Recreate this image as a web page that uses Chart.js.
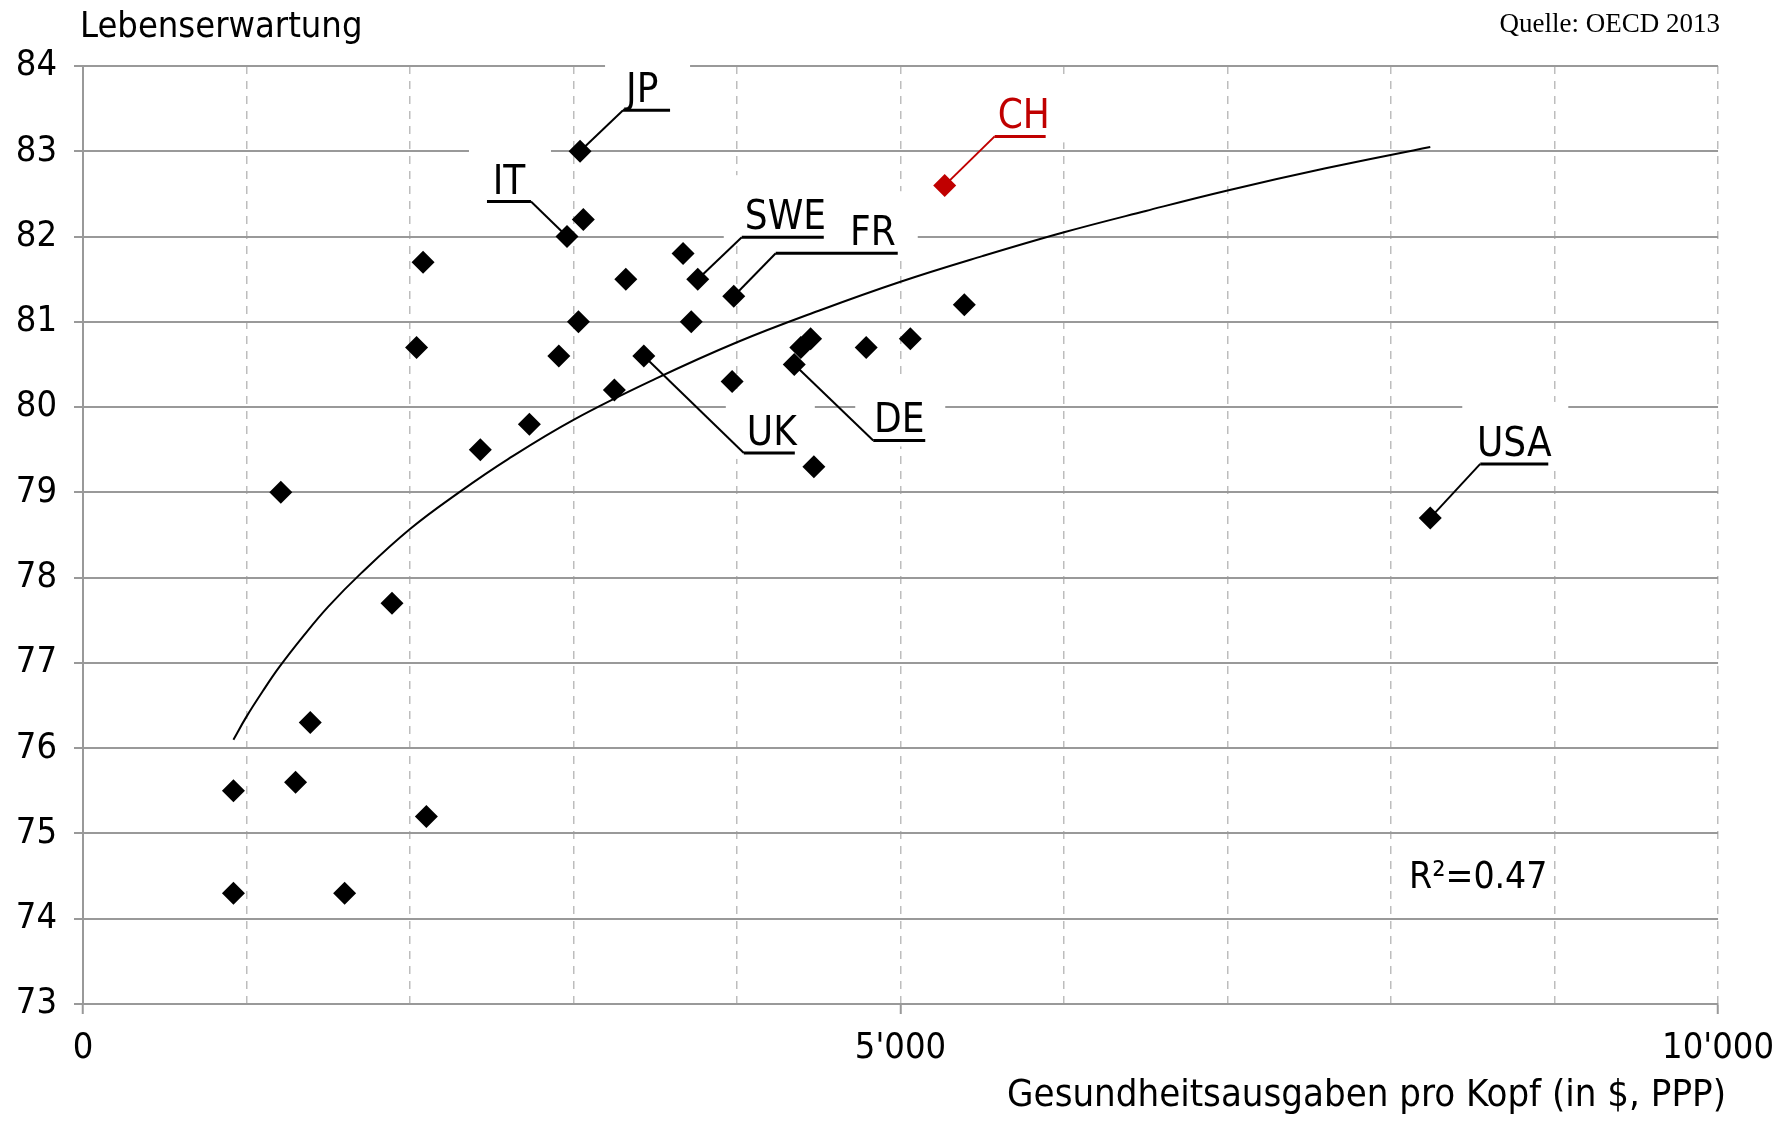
<!DOCTYPE html>
<html>
<head>
<meta charset="utf-8">
<script src="https://cdn.jsdelivr.net/npm/chart.js@4.4.0/dist/chart.umd.min.js"></script>
<style>
    html, body { margin: 0; padding: 0; background: #fff; }
    #wrap { width: 1787px; height: 1127px; }
</style>
</head>
<body>
<div id="wrap"><canvas id="chart" width="1787" height="1127"></canvas></div>
<script>
const FONT = "'Liberation Sans Narrow', 'DejaVu Sans Condensed', sans-serif";

// Health spending per head (USD, PPP) and life expectancy
const spending = [3040, 3060, 2960, 2080, 2040, 3030, 2910, 3320, 3250, 3430,
                  3670, 3760, 3720, 3980, 3970, 4350, 4390, 4450, 4470, 4790,
                  5060, 5390, 8240, 2430, 2730, 1210, 1890, 1390, 1300, 920,
                  920, 1600, 2100];
const lifeExp = [83.0, 82.2, 82.0, 81.7, 80.7, 81.0, 80.6, 81.5, 80.2, 80.6,
                 81.8, 81.5, 81.0, 81.3, 80.3, 80.5, 80.7, 80.8, 79.3, 80.7,
                 80.8, 81.2, 78.7, 79.5, 79.8, 79.0, 77.7, 76.3, 75.6, 75.5,
                 74.3, 74.3, 75.2];
const codes = ['JP', '', 'IT', '', '', '', '', '', '', 'UK',
               '', 'SWE', '', 'FR', '', 'DE', '', '', '', '',
               '', '', 'USA', '', '', '', '', '', '', '',
               '', '', ''];

// Switzerland, highlighted
const chSpending = [5270];
const chLifeExp = [82.6];

// Logarithmic trend curve
const trendX = [920, 1000, 1100, 1200, 1350, 1500, 1700, 2000, 2300, 2600, 3000,
                3500, 4000, 4500, 5000, 5500, 6000, 6500, 7000, 7600, 8240];
const trendY = [76.1, 76.37, 76.67, 76.95, 77.32, 77.66, 78.05, 78.57, 79.0, 79.39, 79.85,
                80.33, 80.76, 81.13, 81.47, 81.77, 82.05, 82.3, 82.54, 82.8, 83.05];

const xLabelValues = [0, 5000, 10000];
const xLabelTexts = ['0', "5'000", "10'000"];

// Leader line + underline placement for each labelled point (pixels)
const labelStyle = {
    JP:  { dx: 43,  dy: -41, len: 47,  dir: 1,  align: 'left' },
    IT:  { dx: -36, dy: -35, len: 44,  dir: -1, align: 'center' },
    SWE: { dx: 44,  dy: -42, len: 82,  dir: 1,  align: 'left' },
    FR:  { dx: 42,  dy: -43, len: 122, dir: 1,  align: 'right' },
    UK:  { dx: 100, dy: 97,  len: 51,  dir: 1,  align: 'left' },
    DE:  { dx: 79,  dy: 76,  len: 52,  dir: 1,  align: 'center' },
    USA: { dx: 50,  dy: -54, len: 68,  dir: 1,  align: 'center' },
    CH:  { dx: 50,  dy: -49, len: 51,  dir: 1,  align: 'left', color: '#c00000' }
};

function labelItems(chart) {
    const items = [];
    const pts = chart.getDatasetMeta(0).data;
    codes.forEach((c, i) => {
        if (c) items.push({ code: c, x: pts[i].x, y: pts[i].y });
    });
    const ch = chart.getDatasetMeta(1).data[0];
    items.push({ code: 'CH', x: ch.x, y: ch.y });
    return items.map(it => {
        const s = labelStyle[it.code];
        const ax = it.x + s.dx, ay = it.y + s.dy;
        const x0 = s.dir > 0 ? ax : ax - s.len;
        const x1 = s.dir > 0 ? ax + s.len : ax;
        return Object.assign({}, it, s, { ax, ay, x0, x1 });
    });
}

const annotate = {
    id: 'annotate',
    beforeDatasetsDraw(chart) {
        const ctx = chart.ctx;
        ctx.save();
        ctx.fillStyle = '#fff';
        labelItems(chart).forEach(l => {
            ctx.fillRect(l.x0 - 18, l.ay - 62, (l.x1 - l.x0) + 38, 68);
        });
        ctx.restore();
    },
    afterDatasetsDraw(chart) {
        const ctx = chart.ctx;
        ctx.save();
        labelItems(chart).forEach(l => {
            const col = l.color || '#000';
            ctx.strokeStyle = col;
            ctx.lineWidth = 2;
            ctx.beginPath();
            ctx.moveTo(l.x, l.y);
            ctx.lineTo(l.ax, l.ay);
            ctx.stroke();
            ctx.lineWidth = 3;
            ctx.beginPath();
            ctx.moveTo(l.x0, l.ay);
            ctx.lineTo(l.x1, l.ay);
            ctx.stroke();
            ctx.fillStyle = col;
            ctx.font = '40px ' + FONT;
            ctx.textBaseline = 'alphabetic';
            ctx.textAlign = l.align;
            let tx = l.x0 + 3;
            if (l.align === 'center') tx = (l.x0 + l.x1) / 2;
            if (l.align === 'right') tx = l.x1 - 2;
            ctx.fillText(l.code, tx, l.ay - 8);
        });

        // R² note, placed in data space
        const xs = chart.scales.x, ys = chart.scales.y;
        ctx.fillStyle = '#000';
        ctx.textAlign = 'left';
        ctx.textBaseline = 'middle';
        ctx.font = '37px ' + FONT;
        ctx.fillText('R²=0.47', xs.getPixelForValue(8110), ys.getPixelForValue(74.47));
        ctx.restore();
    },
    afterDraw(chart) {
        const ctx = chart.ctx;
        ctx.save();
        ctx.fillStyle = '#000';
        ctx.textBaseline = 'middle';
        ctx.textAlign = 'left';
        ctx.font = '36px ' + FONT;
        ctx.fillText('Lebenserwartung', 80, 28);
        ctx.textAlign = 'right';
        ctx.font = '38px ' + FONT;
        ctx.fillText('Gesundheitsausgaben pro Kopf (in $, PPP)', 1726, 1096);
        ctx.font = "27px 'Liberation Serif', serif";
        ctx.fillText('Quelle: OECD 2013', 1720, 25);
        ctx.restore();
    }
};

const ctx = document.getElementById('chart').getContext('2d');
new Chart(ctx, {
    type: 'scatter',
    data: {
        datasets: [{
            data: spending.map((x, i) => ({ x: x, y: lifeExp[i] })),
            pointStyle: 'rectRot',
            pointRadius: 11.5,
            backgroundColor: '#000',
            borderWidth: 0,
            order: 0
        }, {
            data: chSpending.map((x, i) => ({ x: x, y: chLifeExp[i] })),
            pointStyle: 'rectRot',
            pointRadius: 11.5,
            backgroundColor: '#c00000',
            borderWidth: 0,
            order: 0
        }, {
            type: 'line',
            data: trendX.map((x, i) => ({ x: x, y: trendY[i] })),
            borderColor: '#000',
            borderWidth: 2,
            pointRadius: 0,
            fill: false,
            tension: 0.4,
            order: 1
        }]
    },
    options: {
        responsive: false,
        animation: false,
        layout: { padding: { top: 66, right: 67, left: 0, bottom: 0 } },
        plugins: {
            legend: { display: false },
            tooltip: { enabled: false }
        },
        scales: {
            x: {
                type: 'linear',
                min: 0,
                max: 10000,
                afterFit(scale) { scale.height = 123; },
                ticks: {
                    stepSize: 1000,
                    autoSkip: false,
                    maxRotation: 0,
                    padding: 13,
                    color: '#000',
                    font: { family: FONT, size: 36 },
                    callback: (v) => {
                        const i = xLabelValues.indexOf(v);
                        return i >= 0 ? xLabelTexts[i] : '';
                    }
                },
                grid: {
                    color: '#bdbdbd',
                    lineWidth: 1.5,
                    tickLength: 10,
                    tickWidth: 2,
                    tickColor: (c) => xLabelValues.includes(c.tick && c.tick.value) ? '#999' : 'rgba(0,0,0,0)'
                },
                border: { color: '#999', width: 2, dash: [8, 7] }
            },
            y: {
                min: 73,
                max: 84,
                afterFit(scale) { scale.width = 83; },
                ticks: {
                    stepSize: 1,
                    padding: 17,
                    color: '#000',
                    font: { family: FONT, size: 36 }
                },
                grid: {
                    color: '#999',
                    lineWidth: 2,
                    tickLength: 9,
                    tickColor: '#999'
                },
                border: { color: '#999', width: 2 }
            }
        }
    },
    plugins: [annotate]
});
</script>
</body>
</html>
